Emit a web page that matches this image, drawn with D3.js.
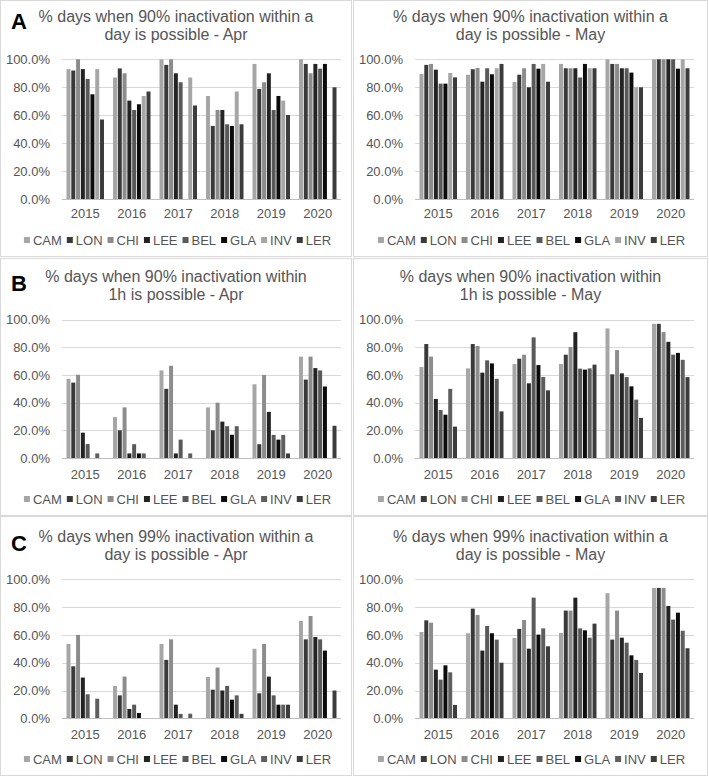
<!DOCTYPE html>
<html><head><meta charset="utf-8">
<script src="https://cdn.jsdelivr.net/npm/d3@7"></script>
<style>
html,body{margin:0;padding:0;background:#fff;}
svg{display:block;font-family:"Liberation Sans",Arial,sans-serif;}
</style></head>
<body><svg id="chart" width="709" height="776"></svg>
<script>
const years = ["2015","2016","2017","2018","2019","2020"];
const sites = ["CAM","LON","CHI","LEE","BEL","GLA","INV","LER"];
const yTicks = [0,20,40,60,80,100];

// rows = sites (CAM..LER), columns = years (2015..2020), values in %
const day90Apr = [
  [93, 87, 100, 73.8, 96.7, 100],
  [92, 93.5, 96, 52.4, 78.8, 96.7],
  [100, 90, 100, 63.8, 83.6, 90],
  [93, 70.5, 90, 63.8, 90, 96.7],
  [86, 63.8, 83.6, 53.6, 63.8, 93.3],
  [75, 67.9, 0, 52.4, 73.8, 96.7],
  [93, 73.8, 87, 77, 70.5, 0],
  [57, 77, 67, 53.6, 60.2, 80]
];
const day90May = [
  [89.5, 89, 83.8, 96.7, 100, 100],
  [96, 92.9, 89, 93.6, 96.7, 100],
  [96.7, 93.8, 93.6, 93.6, 96.7, 100],
  [92.6, 84, 80, 93.6, 93.6, 100],
  [82.6, 93.6, 96.7, 87, 93.6, 100],
  [82.6, 89.3, 93.3, 96.7, 90.5, 93.3],
  [90.2, 93.6, 96.7, 93.6, 80, 100],
  [87.1, 96.7, 84, 93.6, 80, 93.6]
];
const hour90Apr = [
  [57.3, 29.6, 63.3, 36.6, 53.3, 73.3],
  [54.5, 20, 50, 20, 10, 56.7],
  [60.2, 36.6, 66.7, 40, 60, 73.3],
  [18.3, 3.3, 3.3, 26.3, 33.3, 65],
  [10.1, 10, 13.3, 23, 16.7, 63.3],
  [0, 3.3, 0, 16.8, 13.3, 51.7],
  [3.3, 3.3, 3.3, 23, 16.7, 0],
  [0, 0, 0, 0, 3.3, 23.3]
];
const hour90May = [
  [65.8, 64.8, 68, 68, 93.7, 97],
  [82.4, 82.4, 71.8, 74.7, 60.5, 97],
  [73.3, 81, 74.7, 80.2, 78, 91],
  [42.7, 61.7, 54, 91, 61.2, 84],
  [34.7, 70.6, 87.2, 64.6, 58.5, 74.7],
  [31.3, 68.4, 67.2, 63.9, 51.8, 76],
  [50, 57.3, 58.6, 64.8, 42.2, 71],
  [22.7, 33.7, 48.9, 67.5, 29, 58.5]
];
const day99Apr = [
  [53.5, 23.3, 53.5, 29.7, 50, 70],
  [37.4, 16.5, 42, 20.6, 18, 56.8],
  [60, 30, 56.8, 36.5, 53.5, 73.6],
  [29.3, 6.7, 9.8, 20, 30, 58.5],
  [17.3, 9.8, 3.1, 23.3, 16.5, 56.8],
  [0, 3.8, 0, 13.4, 9.8, 48.7],
  [14.1, 0, 3.3, 16.5, 9.8, 0],
  [0, 0, 0, 3.2, 9.8, 20]
];
const day99May = [
  [62.1, 61.2, 57.8, 61.4, 90, 93.8],
  [70.5, 78.9, 64.3, 77.5, 56.6, 93.8],
  [68.8, 74.3, 70.7, 77.5, 77.5, 93.8],
  [35, 48.7, 50.1, 86.8, 58, 80.8],
  [27.8, 66.4, 86.8, 64.7, 54.4, 71],
  [38.1, 61.2, 60.2, 63.3, 45.3, 76],
  [33.1, 56.6, 64.7, 58, 42, 63],
  [9.6, 40, 51.8, 68.1, 32.6, 50.4]
];

const titles = [
  ["% days when 90% inactivation within a", "day is possible - Apr"],
  ["% days when 90% inactivation within a", "day is possible - May"],
  ["% days when 90% inactivation within", "1h is possible - Apr"],
  ["% days when 90% inactivation within", "1h is possible - May"],
  ["% days when 99% inactivation within a", "day is possible - Apr"],
  ["% days when 99% inactivation within a", "day is possible - May"]
];
const panelLetters = ["A", "", "B", "", "C", ""];
const panelData = [day90Apr, day90May, hour90Apr, hour90May, day99Apr, day99May];

const baseColors = ["#a6a6a6","#3a3a3a","#8c8c8c","#232323","#595959","#0c0c0c","#a6a6a6","#3c3c3c"];
const invDark = "#5e5e5e";

const svg = d3.select("#chart");
const rowTop = [0, 258, 516];
const rowH = [257, 258, 260];
const layout = [
  {t1:22, t2:40, letter:29, pt:59.3, pb:199.3, xl:218, lg:245},
  {t1:24, t2:42, letter:33, pt:61.7, pb:200, xl:221, lg:246},
  {t1:26, t2:44, letter:35, pt:63.3, pb:202.3, xl:223, lg:248}
];

panelData.forEach((data, pi) => {
  const row = Math.floor(pi / 2), col = pi % 2;
  const L = layout[row];
  const px = col === 0 ? 0 : 353;
  const pw = col === 0 ? 352 : 355;
  const g = svg.append("g").attr("transform", `translate(${px},${rowTop[row]})`);
  g.append("rect").attr("x", 0.5).attr("y", 0.5).attr("width", pw - 1).attr("height", rowH[row] - 1)
    .attr("fill", "#fff").attr("stroke", "#d9d9d9").attr("stroke-width", 1);

  const colors = baseColors.slice();
  if (row > 0) colors[6] = invDark;
  const color = d3.scaleOrdinal().domain(sites).range(colors);

  const x0 = d3.scaleBand().domain(years).range([62, 341]).paddingInner(0).paddingOuter(0);
  const x1 = d3.scaleBand().domain(sites).range([4.5, x0.bandwidth() - 4.5]).paddingInner(0.17).paddingOuter(0);
  const y = d3.scaleLinear().domain([0, 100]).range([L.pb, L.pt]);

  g.append("g").selectAll("line").data(yTicks.filter(d => d > 0)).join("line")
    .attr("x1", 62).attr("x2", 341)
    .attr("y1", d => Math.round(y(d)) + 0.5).attr("y2", d => Math.round(y(d)) + 0.5)
    .attr("stroke", "#d9d9d9").attr("stroke-width", 1);

  const yAxis = d3.axisLeft(y).tickValues(yTicks).tickSize(0).tickPadding(0)
    .tickFormat(d => d3.format(".1f")(d) + "%");
  const ya = g.append("g").attr("transform", "translate(50,0)").call(yAxis);
  ya.select(".domain").remove();
  ya.selectAll("text").attr("fill", "#555").attr("font-size", 13)
    .attr("font-family", "'Liberation Sans',Arial,sans-serif");

  const groups = g.append("g").selectAll("g").data(years).join("g")
    .attr("transform", d => `translate(${x0(d)},0)`);
  groups.selectAll("rect").data((yr, yi) => sites.map((s, si) => ({s, v: data[si][yi]})))
    .join("rect")
    .attr("x", d => x1(d.s)).attr("width", x1.bandwidth())
    .attr("y", d => y(d.v)).attr("height", d => y(0) - y(d.v))
    .attr("fill", d => color(d.s));

  const xAxis = d3.axisBottom(x0).tickSize(0).tickPadding(0);
  const xa = g.append("g").attr("transform", `translate(0,${Math.round(y(0)) + 0.5})`).call(xAxis);
  xa.select(".domain").attr("stroke", "#bfbfbf").attr("d", `M62,0H341`);
  xa.selectAll("text").attr("fill", "#555").attr("font-size", 13)
    .attr("dy", null).attr("y", L.xl - Math.round(y(0)) - 0.5)
    .attr("font-family", "'Liberation Sans',Arial,sans-serif");

  const cx = pw / 2;
  g.append("text").attr("x", cx).attr("y", L.t1).attr("text-anchor", "middle")
    .attr("font-size", 16).attr("fill", "#555").text(titles[pi][0]);
  g.append("text").attr("x", cx).attr("y", L.t2).attr("text-anchor", "middle")
    .attr("font-size", 16).attr("fill", "#555").text(titles[pi][1]);
  if (panelLetters[pi]) {
    g.append("text").attr("x", 11).attr("y", L.letter).attr("font-size", 22).attr("font-weight", "bold")
      .attr("fill", "#000").text(panelLetters[pi]);
  }

  const lg = g.append("g");
  let cursor = 0;
  sites.forEach((s) => {
    const it = lg.append("g");
    it.append("rect").attr("x", 0).attr("y", L.lg - 8).attr("width", 6).attr("height", 6).attr("fill", color(s));
    const t = it.append("text").attr("x", 9).attr("y", L.lg).attr("font-size", 13).attr("fill", "#555").text(s);
    const w = 9 + t.node().getComputedTextLength();
    it.attr("transform", `translate(${cursor},0)`);
    cursor += w + 5;
  });
  const total = cursor - 5;
  lg.attr("transform", `translate(${(22 + 333 - total) / 2 + (col === 0 ? 0 : 1)},0)`);
});
</script></body></html>
